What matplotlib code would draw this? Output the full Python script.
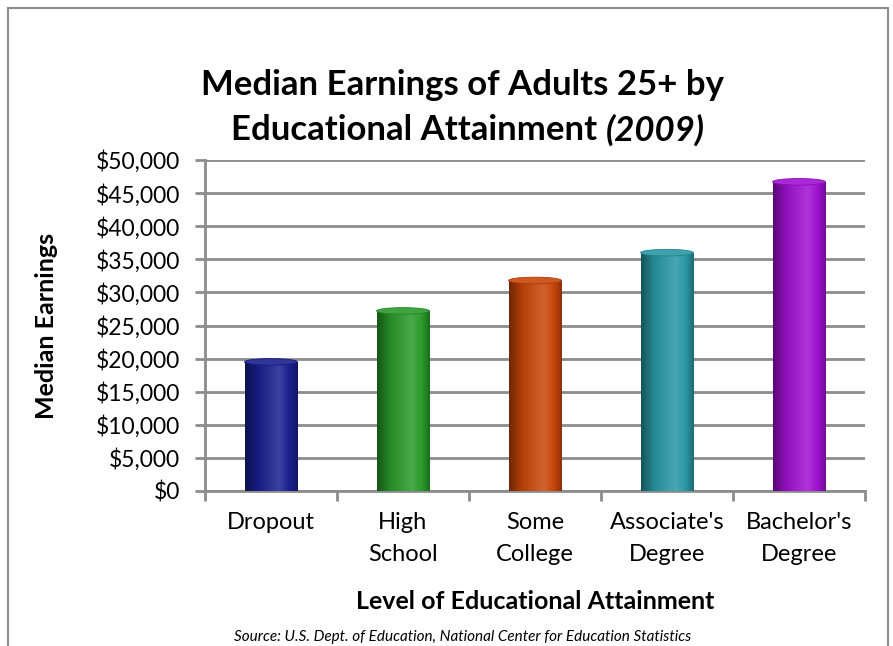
import numpy as np
import matplotlib
matplotlib.use("Agg")
import matplotlib.pyplot as plt
from matplotlib.colors import LinearSegmentedColormap, to_rgb
from matplotlib.patches import Ellipse, Rectangle

categories = ["Dropout", "High\nSchool", "Some\nCollege", "Associate's\nDegree", "Bachelor's\nDegree"]
earnings = [19500, 27200, 31800, 36000, 46700]
colors = ["#18208e", "#2a9a2a", "#c8460a", "#2898a4", "#a010d2"]
yticks = list(range(0, 50001, 5000))

plt.rcParams['font.family'] = ['Lato', 'DejaVu Sans']

fig = plt.figure(figsize=(8.93, 6.46), dpi=100)
ax = fig.add_axes([205/893, 1 - 491/646, 660/893, 331/646])

x = np.arange(len(categories))
w = 0.4
bars = ax.bar(x, earnings, width=w, color=colors, zorder=3)


def shade(c, f):
    r = np.array(to_rgb(c))
    if f < 1:
        return tuple(r * f)
    return tuple(r + (1 - r) * (f - 1))


grad = np.linspace(0, 1, 256).reshape(1, -1)
for b, c in zip(bars, colors):
    cmap = LinearSegmentedColormap.from_list(
        "c", [(0, shade(c, 0.55)), (0.25, shade(c, 0.9)), (0.65, shade(c, 1.15)),
              (0.85, shade(c, 1.0)), (1, shade(c, 0.7))])
    bx, bw, bh = b.get_x(), b.get_width(), b.get_height()
    im = ax.imshow(grad, cmap=cmap, aspect="auto", extent=[bx, bx + bw, 0, bh],
                   zorder=4, interpolation="bicubic")
    im.set_clip_path(b)
    cap = Ellipse((bx + bw / 2, bh), bw, 1000, facecolor=shade(c, 1.1),
                  edgecolor=shade(c, 0.85), lw=0.6, zorder=5)
    ax.add_patch(cap)

ax.set_xlim(-0.5, len(categories) - 0.5)
ax.set_ylim(0, 50000)
ax.set_yticks(yticks)
ax.set_yticklabels(["${:,}".format(v) for v in yticks], fontsize=16.5)
ax.set_xticks(x)
ax.set_xticklabels(categories, fontsize=17, va="top", linespacing=1.65)
ax.set_xticks(np.arange(-0.5, len(categories)), minor=True)
ax.tick_params(axis="x", which="major", length=0, pad=15)
ax.tick_params(axis="x", which="minor", length=7, width=2, color="#8c8c8c")
ax.tick_params(axis="y", length=7, width=2, color="#8c8c8c", pad=11)
ax.yaxis.grid(True, color="#8c8c8c", lw=2, zorder=1)
ax.set_axisbelow(True)
for s in ["top", "right"]:
    ax.spines[s].set_visible(False)
for s in ["left", "bottom"]:
    ax.spines[s].set_color("#8c8c8c")
    ax.spines[s].set_linewidth(2)

ax.set_ylabel("Median Earnings", fontsize=18, fontweight="bold")
ax.yaxis.set_label_coords(-0.222, 0.5)
ax.set_xlabel("Level of Educational Attainment", fontsize=18, fontweight="bold")
ax.xaxis.set_label_coords(0.5, -0.30)

fig.text(0.518, 1 - 85/646, "Median Earnings of Adults 25+ by", ha="center", va="center",
         fontsize=25, fontweight="bold")

# second title line: bold text + bold italic year, centred together
cx, cy = 0.524, 1 - 130/646
t1 = fig.text(cx, cy, "Educational Attainment ", ha="left", va="center",
              fontsize=25, fontweight="bold")
t2 = fig.text(cx, cy, "(2009)", ha="left", va="center",
              fontsize=25, fontweight="bold", style="italic")
r = fig.canvas.get_renderer()
w1 = t1.get_window_extent(r).width / fig.bbox.width
w2 = t2.get_window_extent(r).width / fig.bbox.width
t1.set_x(cx - (w1 + w2) / 2)
t2.set_x(cx - (w1 + w2) / 2 + w1)

fig.text(0.518, 1 - 637/646, "Source: U.S. Dept. of Education, National Center for Education Statistics",
         ha="center", va="center", fontsize=11, style="italic")

fig.patches.append(Rectangle((8/893, -0.05), 880/893, 1.05 - 8/646, transform=fig.transFigure,
                             fill=False, edgecolor="#8c8c8c", lw=1.5))

fig.savefig("out.png", dpi=100)
